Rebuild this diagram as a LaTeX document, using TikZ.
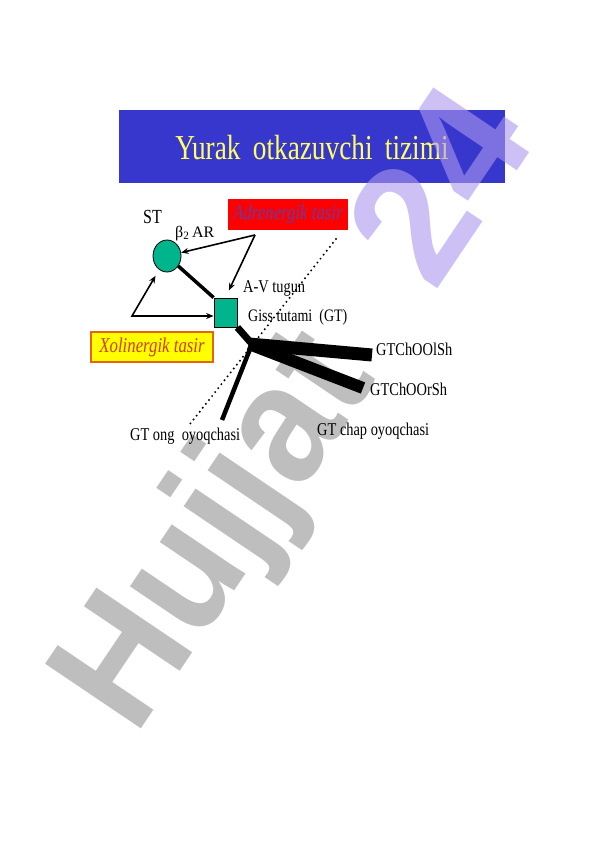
\documentclass[tikz,border=0pt]{standalone}
\usepackage{fontspec}
\setmainfont{Liberation Serif}
\newfontfamily\wmfont{Liberation Sans}
\usetikzlibrary{arrows.meta,shapes.geometric}
\definecolor{titleblue}{RGB}{55,55,205}
\definecolor{titleyellow}{RGB}{255,255,100}
\definecolor{nodeteal}{RGB}{0,180,140}
\definecolor{adrred}{RGB}{255,0,0}
\definecolor{adrtext}{RGB}{100,60,170}
\definecolor{xolyellow}{RGB}{255,255,0}
\definecolor{xolborder}{RGB}{230,100,20}
\definecolor{xoltext}{RGB}{210,60,0}
\definecolor{wmgray}{RGB}{147,147,147}
\definecolor{wmlav}{RGB}{172,150,238}
\newcommand{\cond}[1]{\scalebox{0.8}[1]{#1}}
\begin{document}
\begin{tikzpicture}[x=1pt,y=-1pt,
  lbl/.style={inner sep=0pt, anchor=base west, font=\fontsize{18}{21}\selectfont},
  arr/.style={line width=1.6pt, -{Stealth[length=7.5pt,width=6pt]}},
  arrboth/.style={line width=1.6pt, {Stealth[length=7.5pt,width=6pt]}-{Stealth[length=7.5pt,width=6pt]}},
  tealnode/.style={draw, fill=nodeteal, line width=0.8pt, inner sep=0pt},
  dotline/.style={line width=2.2pt, dash pattern=on 0pt off 5pt, line cap=round},
  wmark/.style={rotate=56, anchor=base west, inner sep=0pt, text opacity=0.6,
      font=\wmfont\bfseries\fontsize{168}{170}\selectfont},
]
\fill[white] (0,0) rectangle (596,842);
\useasboundingbox (0,0) rectangle (596,842);
% title
\node[fill=titleblue, minimum width=386pt, minimum height=73pt, inner sep=0pt] (title) at (312,146.5) {};
\node[text=titleyellow, inner sep=0pt, anchor=base] (titletext) at (312,160)
  {\fontsize{35}{40}\selectfont\scalebox{0.78}[1]{Yurak\hspace{0.45em}otkazuvchi\hspace{0.45em}tizimi}};
% watermark
\node[wmark, text=wmgray] (wm1) at (135,738) {\scalebox{0.93}[1]{Hujjat}};
\node[wmark, text=wmlav] (wm2) at (434,294) {24};
% boxes
\node[fill=adrred, minimum width=120pt, minimum height=31pt, inner sep=0pt] (adr) at (288,214.5)
  {\fontsize{21}{24}\selectfont\itshape\color{adrtext}\cond{Adrenergik tasir}};
\node[fill=xolyellow, draw=xolborder, line width=1.2pt, minimum width=122pt, minimum height=30pt, inner sep=0pt] (xol) at (152,347)
  {\fontsize{21}{24}\selectfont\itshape\color{xoltext}\cond{Xolinergik tasir}};
% labels
\node[lbl, font=\fontsize{20}{24}\selectfont] (stlbl) at (143,223) {\cond{ST}};
\node[lbl, font=\fontsize{16}{20}\selectfont] (b2ar) at (175,237) {β\textsubscript{2}\,AR};
\node[lbl] (av) at (243,292) {\cond{A-V tugun}};
\node[lbl, font=\fontsize{17.5}{21}\selectfont] (giss) at (248,321) {\cond{Giss tutami\hspace{0.5em}(GT)}};
\node[lbl] (ol) at (376,355) {\cond{GTChOOlSh}};
\node[lbl] (or) at (370,395) {\cond{GTChOOrSh}};
\node[lbl] (chap) at (317,435) {\cond{GT chap oyoqchasi}};
\node[lbl] (ong) at (130,440) {\cond{GT ong\hspace{0.5em}oyoqchasi}};
% shapes
\node[tealnode, ellipse, minimum width=28pt, minimum height=32pt] (st) at (167,256) {};
\node[tealnode, rectangle, minimum width=23pt, minimum height=29pt] (sq) at (225.5,312.5) {};
% dotted line
\coordinate (dotA) at (336,239);
\coordinate (dotB) at (190,424);
\draw[dotline] (dotA) -- (dotB);
% connectors
\draw[line width=3.5pt] (st) -- (sq.north west);
\coordinate (adrO) at (255,235);
\draw[arr] (adrO) -- (st);
\draw[arr, shorten >=8pt] (adrO) -- (sq.north);
\coordinate (xolC) at (132,316);
\draw[arrboth, shorten <=7pt] (st.240) -- (xolC) -- (xolC -| sq.west);
% bundle branches
\coordinate (J) at (252,344);
\coordinate (olEnd) at (372,355);
\coordinate (orEnd) at (363,388);
\coordinate (ongEnd) at (222,420);
\draw[line width=7pt] (sq.south east) -- (J);
\draw[line width=13pt] ([xshift=-3pt]J) -- (olEnd);
\draw[line width=12pt] ([xshift=-3pt]J) -- (orEnd);
\draw[line width=4.5pt] (J) -- (ongEnd);
\end{tikzpicture}
\end{document}
